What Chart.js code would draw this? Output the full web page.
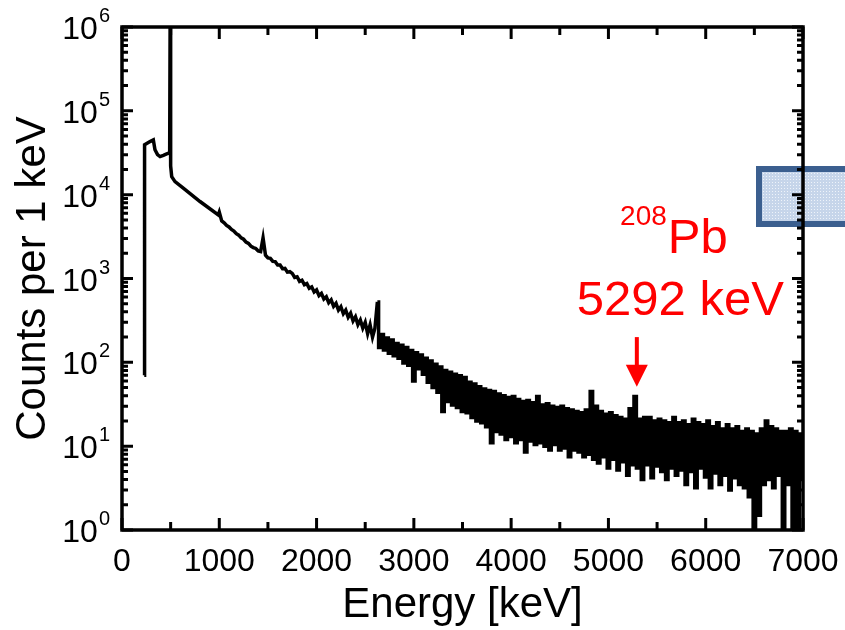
<!DOCTYPE html>
<html>
<head>
<meta charset="utf-8">
<script src="https://cdn.jsdelivr.net/npm/chart.js@4.4.0/dist/chart.umd.min.js"></script>
<style>
  html, body { margin: 0; padding: 0; background: #fff; overflow: hidden; }
  #wrap { position: relative; width: 845px; height: 630px; }
  #box {
    position: absolute; left: 756px; top: 166px; width: 100px; height: 49px;
    border: 6px solid #3b5f8f;
    background-color: #c6d5ea;
    background-image: radial-gradient(#eef3fa 0.9px, transparent 0.9px);
    background-size: 3px 3px;
  }
  #c { position: absolute; left: 0; top: 0; }
</style>
</head>
<body>
<div id="wrap">
  <div id="box"></div>
  <canvas id="c" width="845" height="630"></canvas>
</div>
<script>
// Спектр: порог, комптоновский горб и пик 511 кэВ (энергии заданы явно)
const edgeKeV    = [229, 232, 288, 322, 339, 365, 391, 425, 459, 480, 490, 495, 500, 511, 545, 630, 802, 990];
const edgeCounts = [70, 39300, 43000, 45000, 34300, 30000, 28500, 29500, 30700, 31300, 32000, 1500000, 22000, 16400, 14300, 11950, 8280, 5740];

// 1000..2625 кэВ, шаг 25 кэВ (гладкая линия)
const midStartKeV = 1000;
const midStepKeV = 25;
const midCounts = [
  6200, 4860, 4620, 4300, 4120, 3840, 3680, 3420, 3290, 3050,
  2940, 2720, 2620, 2430, 2340, 2280, 2130, 2090, 3050, 1900,
  1760, 1740, 1600, 1590, 1450, 1450, 1310, 1320, 1190, 1205,
  1150, 1030, 1050, 925, 955, 845, 870, 765, 795, 690,
  730, 625, 665, 570, 605, 515, 555, 465, 505, 420,
  460, 380, 420, 345, 385, 312, 350, 282, 320, 256,
  300, 220, 280, 200, 255, 525
];

// 2650..7000 кэВ, шаг 25 кэВ (ступеньками, шумный хвост)
const tailStartKeV = 2650;
const tailStepKeV = 25;
const tailCounts = [
  150, 215, 140, 195, 128, 185, 120, 168, 112, 160,
  98, 150, 92, 138, 60, 130, 84, 122, 72, 112,
  58, 104, 50, 95, 44, 88, 26, 80, 34, 76,
  31, 72, 29, 69, 26, 66, 25, 58, 22, 55,
  20, 51, 19, 48, 17, 46, 11, 45, 15, 42,
  14, 40, 12, 38, 13, 39, 11, 36, 12, 34,
  8.5, 35, 11.5, 33, 10.5, 39, 11, 31, 10, 32,
  9, 30, 10.5, 29, 9, 30, 9.5, 28, 7.5, 27,
  9, 26, 8.5, 25, 7.5, 27, 8, 45, 7, 30,
  6.3, 26, 7.5, 24, 5.5, 25, 7, 23, 5.2, 22,
  6.5, 21, 4.5, 28, 6, 39, 5.5, 21, 4, 22,
  6, 22, 4.2, 20, 5.8, 21, 5, 20, 4, 19,
  5.5, 22, 4.5, 19, 5.2, 20, 3.5, 18, 5, 21,
  3.2, 19, 5.5, 18, 4.3, 20, 3.2, 17, 4.8, 19,
  3.5, 16, 4.5, 18, 3, 16, 4.2, 17, 3.5, 15,
  3.2, 16, 2.5, 15, 1, 14, 1.5, 16, 3.5, 20,
  4, 17, 3.2, 16, 4.5, 15, 1, 15, 3.5, 16,
  1, 15, 1, 14, 4
];

// Оси и подписи
const xMajorTicks = [0, 1000, 2000, 3000, 4000, 5000, 6000, 7000];
const xMinorTicks = [500, 1500, 2500, 3500, 4500, 5500, 6500];
const xTickLabels = ['0', '1000', '2000', '3000', '4000', '5000', '6000', '7000'];
const yDecades = [0, 1, 2, 3, 4, 5, 6];

// Аннотация 208Pb
const peakKeV = 5292;
const arrowFromCounts = 200;
const arrowToCounts = 51;

const smoothPoints = edgeKeV.map((e, i) => ({x: e, y: edgeCounts[i]}))
  .concat(midCounts.map((c, i) => ({x: midStartKeV + i * midStepKeV, y: c})));
const lastMid = smoothPoints[smoothPoints.length - 1];
const tailPoints = [lastMid].concat(tailCounts.map((c, i) => ({x: tailStartKeV + i * tailStepKeV, y: c})));

const FONT = '"Liberation Sans", Arial, sans-serif';

const frameAndLabels = {
  id: 'frameAndLabels',
  afterDraw(chart) {
    const {ctx, chartArea: a} = chart;
    const xs = chart.scales.x, ys = chart.scales.y;
    ctx.save();

    // засечки внутрь по всем сторонам
    ctx.strokeStyle = '#000';
    ctx.lineWidth = 3;
    ctx.beginPath();
    const xTick = (v, len) => {
      const px = xs.getPixelForValue(v);
      ctx.moveTo(px, a.bottom); ctx.lineTo(px, a.bottom - len);
      ctx.moveTo(px, a.top); ctx.lineTo(px, a.top + len);
    };
    const yTick = (v, len) => {
      const py = ys.getPixelForValue(v);
      ctx.moveTo(a.left, py); ctx.lineTo(a.left + len, py);
      ctx.moveTo(a.right, py); ctx.lineTo(a.right - len, py);
    };
    xMajorTicks.forEach(v => xTick(v, 12));
    xMinorTicks.forEach(v => xTick(v, 8));
    yDecades.forEach(k => {
      yTick(Math.pow(10, k), 11);
      if (k < 6) for (let m = 2; m <= 9; m++) yTick(m * Math.pow(10, k), 6);
    });
    ctx.stroke();

    // рамка
    ctx.lineWidth = 3.5;
    ctx.lineJoin = 'miter';
    ctx.strokeRect(a.left, a.top, a.right - a.left, a.bottom - a.top);

    // подписи оси X
    ctx.fillStyle = '#000';
    ctx.font = '32px ' + FONT;
    ctx.textAlign = 'center';
    ctx.textBaseline = 'alphabetic';
    xMajorTicks.forEach((v, i) => ctx.fillText(xTickLabels[i], xs.getPixelForValue(v), a.bottom + 41));

    // подписи оси Y: 10 со степенью
    yDecades.forEach(k => {
      const py = ys.getPixelForValue(Math.pow(10, k));
      const right = a.left - 12;
      ctx.font = '20px ' + FONT;
      const supW = ctx.measureText(String(k)).width;
      ctx.textAlign = 'left';
      ctx.fillText(String(k), right - supW, py - 5);
      ctx.font = '32px ' + FONT;
      ctx.textAlign = 'right';
      ctx.fillText('10', right - supW - 1, py + 12);
    });

    // названия осей
    ctx.font = '42px ' + FONT;
    ctx.textAlign = 'center';
    ctx.fillText('Energy [keV]', (a.left + a.right) / 2, a.bottom + 87);
    ctx.save();
    ctx.translate(45, (a.top + a.bottom) / 2);
    ctx.rotate(-Math.PI / 2);
    ctx.fillText('Counts per 1 keV', 0, 0);
    ctx.restore();

    // стрелка и текст 208Pb
    ctx.fillStyle = '#ff0000';
    ctx.strokeStyle = '#ff0000';
    const ax = xs.getPixelForValue(peakKeV);
    const yTop = ys.getPixelForValue(arrowFromCounts);
    const yTip = ys.getPixelForValue(arrowToCounts);
    ctx.lineWidth = 4;
    ctx.beginPath();
    ctx.moveTo(ax, yTop); ctx.lineTo(ax, yTip - 18);
    ctx.stroke();
    ctx.beginPath();
    ctx.moveTo(ax - 11, yTip - 22);
    ctx.lineTo(ax + 11, yTip - 22);
    ctx.lineTo(ax, yTip);
    ctx.closePath();
    ctx.fill();

    ctx.font = '49px ' + FONT;
    ctx.textAlign = 'left';
    ctx.fillText('5292 keV', ax - 60, yTop - 22);
    ctx.fillText('Pb', ax + 31, yTop - 84);
    ctx.font = '28px ' + FONT;
    ctx.textAlign = 'right';
    ctx.fillText('208', ax + 30, yTop - 112);

    ctx.restore();
  }
};

new Chart(document.getElementById('c'), {
  type: 'line',
  data: {
    datasets: [{
      data: smoothPoints,
      borderColor: '#000',
      borderWidth: 3.5,
      pointRadius: 0,
      tension: 0,
      fill: false,
      clip: 0
    }, {
      data: tailPoints,
      borderColor: '#000',
      borderWidth: 3.5,
      pointRadius: 0,
      stepped: 'middle',
      fill: false,
      clip: 0
    }]
  },
  options: {
    responsive: false,
    devicePixelRatio: 1,
    animation: false,
    events: [],
    layout: { padding: { left: 122, top: 27, right: 42, bottom: 100 } },
    scales: {
      x: { type: 'linear', min: 0, max: 7000, display: false },
      y: { type: 'logarithmic', min: 1, max: 1000000, display: false }
    },
    plugins: {
      legend: { display: false },
      tooltip: { enabled: false }
    }
  },
  plugins: [frameAndLabels]
});
</script>
</body>
</html>
